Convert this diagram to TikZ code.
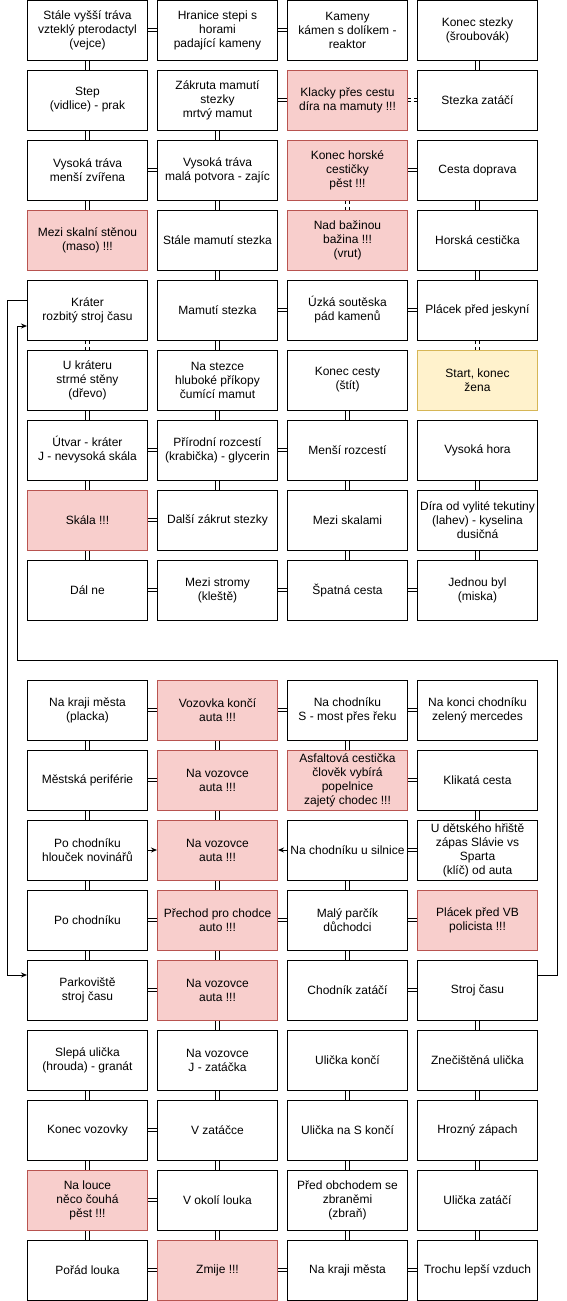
\documentclass[tikz,border=0pt]{standalone}
\usepackage{fontspec}
\setmainfont{Liberation Sans}
\usetikzlibrary{arrows.meta}
\definecolor{cervena}{HTML}{F8CECC}
\definecolor{cervenaokraj}{HTML}{B85450}
\definecolor{zluta}{HTML}{FFF2CC}
\definecolor{zlutaokraj}{HTML}{D6B656}
\begin{document}
\begin{tikzpicture}[x=1pt,y=-1pt,
        box/.style={draw,line width=1pt,minimum width=120pt,minimum height=60pt,inner sep=0.5pt,align=center,font=\fontsize{12}{14}\selectfont},
        nebezpeci/.style={box,fill=cervena,draw=cervenaokraj},
        domov/.style={box,fill=zluta,draw=zlutaokraj},
        spoj/.style={double,double distance=2.6pt,line width=0.8pt},
        spojc/.style={spoj,dashed},
        sipka/.style={line width=1pt,-{Stealth[length=6pt,width=5pt]}}]

        \useasboundingbox (0,0) rectangle (566,1301);

        \node [box] (p11) at (87.5,30) {Stále vyšší tráva\\vzteklý pterodactyl\\(vejce)};
        \node [box] (p12) at (217.5,30) {Hranice stepi s\\horami\\padající kameny};
        \node [box] (p13) at (347.5,30) {Kameny\\kámen s dolíkem -\\reaktor};
        \node [box] (p14) at (477.5,30) {Konec stezky\\(šroubovák)};

        \node [box] (p21) at (87.5,100) {Step\\(vidlice) - prak};
        \node [box] (p22) at (217.5,100) {Zákruta mamutí\\stezky\\mrtvý mamut};
        \node [nebezpeci] (p23) at (347.5,100) {Klacky přes cestu\\díra na mamuty !!!};
        \node [box] (p24) at (477.5,100) {Stezka zatáčí};

        \node [box] (p31) at (87.5,170) {Vysoká tráva\\menší zvířena};
        \node [box] (p32) at (217.5,170) {Vysoká tráva\\malá potvora - zajíc};
        \node [nebezpeci] (p33) at (347.5,170) {Konec horské\\cestičky\\pěst !!!};
        \node [box] (p34) at (477.5,170) {Cesta doprava};

        \node [nebezpeci] (p41) at (87.5,240) {Mezi skalní stěnou\\(maso) !!!};
        \node [box] (p42) at (217.5,240) {Stále mamutí stezka};
        \node [nebezpeci] (p43) at (347.5,240) {Nad bažinou\\bažina !!!\\(vrut)};
        \node [box] (p44) at (477.5,240) {Horská cestička};

        \node [box] (p51) at (87.5,310) {Kráter\\rozbitý stroj času};
        \node [box] (p52) at (217.5,310) {Mamutí stezka};
        \node [box] (p53) at (347.5,310) {Úzká soutěska\\pád kamenů};
        \node [box] (p54) at (477.5,310) {Plácek před jeskyní};

        \node [box] (p61) at (87.5,380) {U kráteru\\strmé stěny\\(dřevo)};
        \node [box] (p62) at (217.5,380) {Na stezce\\hluboké příkopy\\čumící mamut};
        \node [box] (p63) at (347.5,380) {Konec cesty\\(štít)};
        \node [domov] (p64) at (477.5,380) {Start, konec\\žena};

        \node [box] (p71) at (87.5,450) {Útvar - kráter\\J - nevysoká skála};
        \node [box] (p72) at (217.5,450) {Přírodní rozcestí\\(krabička) - glycerin};
        \node [box] (p73) at (347.5,450) {Menší rozcestí};
        \node [box] (p74) at (477.5,450) {Vysoká hora};

        \node [nebezpeci] (p81) at (87.5,520) {Skála !!!};
        \node [box] (p82) at (217.5,520) {Další zákrut stezky};
        \node [box] (p83) at (347.5,520) {Mezi skalami};
        \node [box] (p84) at (477.5,520) {Díra od vylité tekutiny\\(lahev) - kyselina\\dusičná};

        \node [box] (p91) at (87.5,590) {Dál ne};
        \node [box] (p92) at (217.5,590) {Mezi stromy\\(kleště)};
        \node [box] (p93) at (347.5,590) {Špatná cesta};
        \node [box] (p94) at (477.5,590) {Jednou byl\\(miska)};

        \node [box] (m11) at (87.5,710) {Na kraji města\\(placka)};
        \node [nebezpeci] (m12) at (217.5,710) {Vozovka končí\\auta !!!};
        \node [box] (m13) at (347.5,710) {Na chodníku\\S - most přes řeku};
        \node [box] (m14) at (477.5,710) {Na konci chodníku\\zelený mercedes};

        \node [box] (m21) at (87.5,780) {Městská periférie};
        \node [nebezpeci] (m22) at (217.5,780) {Na vozovce\\auta !!!};
        \node [nebezpeci] (m23) at (347.5,780) {Asfaltová cestička\\člověk vybírá\\popelnice\\zajetý chodec !!!};
        \node [box] (m24) at (477.5,780) {Klikatá cesta};

        \node [box] (m31) at (87.5,850) {Po chodníku\\hlouček novinářů};
        \node [nebezpeci] (m32) at (217.5,850) {Na vozovce\\auta !!!};
        \node [box] (m33) at (347.5,850) {Na chodníku u silnice};
        \node [box] (m34) at (477.5,850) {U dětského hřiště\\zápas Slávie vs\\Sparta\\(klíč) od auta};

        \node [box] (m41) at (87.5,920) {Po chodníku};
        \node [nebezpeci] (m42) at (217.5,920) {Přechod pro chodce\\auto !!!};
        \node [box] (m43) at (347.5,920) {Malý parčík\\důchodci};
        \node [nebezpeci] (m44) at (477.5,920) {Plácek před VB\\policista !!!};

        \node [box] (m51) at (87.5,990) {Parkoviště\\stroj času};
        \node [nebezpeci] (m52) at (217.5,990) {Na vozovce\\auta !!!};
        \node [box] (m53) at (347.5,990) {Chodník zatáčí};
        \node [box] (m54) at (477.5,990) {Stroj času};

        \node [box] (m61) at (87.5,1060) {Slepá ulička\\(hrouda) - granát};
        \node [box] (m62) at (217.5,1060) {Na vozovce\\J - zatáčka};
        \node [box] (m63) at (347.5,1060) {Ulička končí};
        \node [box] (m64) at (477.5,1060) {Znečištěná ulička};

        \node [box] (m71) at (87.5,1130) {Konec vozovky};
        \node [box] (m72) at (217.5,1130) {V zatáčce};
        \node [box] (m73) at (347.5,1130) {Ulička na S končí};
        \node [box] (m74) at (477.5,1130) {Hrozný zápach};

        \node [nebezpeci] (m81) at (87.5,1200) {Na louce\\něco čouhá\\pěst !!!};
        \node [box] (m82) at (217.5,1200) {V okolí louka};
        \node [box] (m83) at (347.5,1200) {Před obchodem se\\zbraněmi\\(zbraň)};
        \node [box] (m84) at (477.5,1200) {Ulička zatáčí};

        \node [box] (m91) at (87.5,1270) {Pořád louka};
        \node [nebezpeci] (m92) at (217.5,1270) {Zmije !!!};
        \node [box] (m93) at (347.5,1270) {Na kraji města};
        \node [box] (m94) at (477.5,1270) {Trochu lepší vzduch};

        \draw [spoj] (p11) -- (p12);
        \draw [spoj] (p12) -- (p13);
        \draw [spoj] (p22) -- (p23);
        \draw [spojc] (p23) -- (p24);
        \draw [spoj] (p31) -- (p32);
        \draw [spoj] (p33) -- (p34);
        \draw [spoj] (p52) -- (p53);
        \draw [spoj] (p53) -- (p54);
        \draw [spoj] (p71) -- (p72);
        \draw [spoj] (p72) -- (p73);
        \draw [spoj] (p81) -- (p82);
        \draw [spoj] (p91) -- (p92);
        \draw [spoj] (p92) -- (p93);
        \draw [spoj] (p93) -- (p94);

        \draw [spoj] (p11) -- (p21);
        \draw [spoj] (p14) -- (p24);
        \draw [spoj] (p21) -- (p31);
        \draw [spoj] (p22) -- (p32);
        \draw [spoj] (p31) -- (p41);
        \draw [spoj] (p32) -- (p42);
        \draw [spojc] (p33) -- (p43);
        \draw [spoj] (p34) -- (p44);
        \draw [spoj] (p42) -- (p52);
        \draw [spoj] (p44) -- (p54);
        \draw [spojc] (p51) -- (p61);
        \draw [spoj] (p52) -- (p62);
        \draw [spojc] (p54) -- (p64);
        \draw [spoj] (p61) -- (p71);
        \draw [spoj] (p62) -- (p72);
        \draw [spoj] (p63) -- (p73);
        \draw [spoj] (p71) -- (p81);
        \draw [spoj] (p72) -- (p82);
        \draw [spoj] (p73) -- (p83);
        \draw [spoj] (p74) -- (p84);
        \draw [spoj] (p81) -- (p91);
        \draw [spoj] (p83) -- (p93);
        \draw [spoj] (p84) -- (p94);

        \draw [spoj] (m11) -- (m12);
        \draw [spoj] (m12) -- (m13);
        \draw [spoj] (m13) -- (m14);
        \draw [spoj] (m21) -- (m22);
        \draw [spoj] (m23) -- (m24);
        \draw [sipka] (m31) -- (m32);
        \draw [sipka] (m33) -- (m32);
        \draw [spoj] (m33) -- (m34);
        \draw [spoj] (m41) -- (m42);
        \draw [spoj] (m42) -- (m43);
        \draw [spoj] (m43) -- (m44);
        \draw [spoj] (m51) -- (m52);
        \draw [spoj] (m53) -- (m54);
        \draw [spoj] (m71) -- (m72);
        \draw [spoj] (m81) -- (m82);
        \draw [spoj] (m91) -- (m92);
        \draw [spoj] (m92) -- (m93);
        \draw [spoj] (m93) -- (m94);

        \draw [spoj] (m11) -- (m21);
        \draw [spoj] (m12) -- (m22);
        \draw [spoj] (m13) -- (m23);
        \draw [spoj] (m21) -- (m31);
        \draw [spoj] (m22) -- (m32);
        \draw [spoj] (m24) -- (m34);
        \draw [spoj] (m31) -- (m41);
        \draw [spoj] (m32) -- (m42);
        \draw [spoj] (m33) -- (m43);
        \draw [spoj] (m41) -- (m51);
        \draw [spoj] (m42) -- (m52);
        \draw [spoj] (m43) -- (m53);
        \draw [spoj] (m52) -- (m62);
        \draw [spoj] (m54) -- (m64);
        \draw [spoj] (m61) -- (m71);
        \draw [spoj] (m62) -- (m72);
        \draw [spoj] (m63) -- (m73);
        \draw [spoj] (m64) -- (m74);
        \draw [spoj] (m71) -- (m81);
        \draw [spoj] (m72) -- (m82);
        \draw [spoj] (m73) -- (m83);
        \draw [spoj] (m74) -- (m84);
        \draw [spoj] (m81) -- (m91);
        \draw [spoj] (m82) -- (m92);
        \draw [spoj] (m83) -- (m93);
        \draw [spoj] (m84) -- (m94);

        \coordinate (ohyb1) at (557.5,660);
        \coordinate (ohyb2) at (17.5,660);
        \coordinate (ohyb3) at (7.5,300);
        \draw [sipka] ([yshift=15pt]m54.east) -| (ohyb1) -- (ohyb2) |- ([yshift=-16pt]p51.west);
        \draw [sipka] ([yshift=10pt]p51.west) -- (ohyb3) |- ([yshift=15pt]m51.west);
\end{tikzpicture}
\end{document}
